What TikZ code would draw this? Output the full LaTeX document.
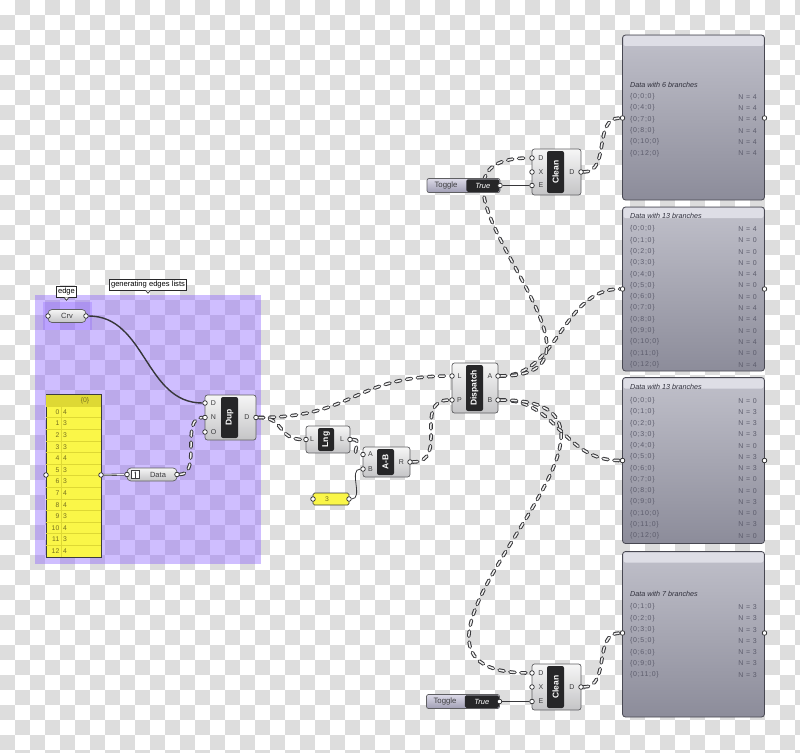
\documentclass[tikz,border=0pt]{standalone}
\usepackage{fontspec}
\setmainfont{Liberation Sans}
\newfontfamily\pnlfont[LetterSpace=10]{Liberation Sans}
\usepackage{xcolor}
\usepackage{tikz}
\usetikzlibrary{positioning, arrows.meta, calc}

\definecolor{chk}{RGB}{221,221,221}
\definecolor{grp}{RGB}{136,92,255}
\definecolor{wiredark}{RGB}{55,55,58}
\definecolor{wirelite}{RGB}{240,240,240}
\definecolor{compedge}{RGB}{95,95,98}
\definecolor{comptop}{RGB}{246,246,246}
\definecolor{compbot}{RGB}{196,196,198}
\definecolor{coreblk}{RGB}{38,38,40}
\definecolor{lbltxt}{RGB}{60,60,62}
\definecolor{knobedge}{RGB}{40,40,42}
\definecolor{pnledge}{RGB}{72,72,82}
\definecolor{pnltop}{RGB}{192,192,202}
\definecolor{pnlbot}{RGB}{140,140,154}
\definecolor{pnlband}{RGB}{222,222,230}
\definecolor{pnltxt}{RGB}{92,92,108}
\definecolor{pnltitle}{RGB}{48,48,60}
\definecolor{ylw}{RGB}{250,246,72}
\definecolor{ylwdark}{RGB}{222,216,52}
\definecolor{ylwtxt}{RGB}{118,112,30}
\definecolor{tgltop}{RGB}{220,218,232}
\definecolor{tglbot}{RGB}{160,158,180}

\pgfdeclarelayer{bg}
\pgfdeclarelayer{wires}
\pgfsetlayers{bg,wires,main}

\tikzset{
  comp/.style={draw=compedge, line width=0.7pt, rounded corners=2.5pt, top color=comptop, bottom color=compbot, inner sep=0pt},
  core/.style={fill=coreblk, rounded corners=2pt, rotate=90, text=white, inner sep=0pt, font=\fontsize{8.5}{9}\selectfont\bfseries},
  lbl/.style={text=lbltxt, inner sep=0pt, font=\fontsize{7}{8}\selectfont},
  param/.style={comp, rounded corners=4pt},
  knob/.style={circle, draw=knobedge, fill=white, line width=0.7pt, inner sep=0pt, minimum size=4.6pt},
  tree/.style={draw=wiredark, line width=3.6pt, line cap=round, dash pattern=on 5pt off 6pt,
    postaction={draw=wirelite, line width=1.5pt, line cap=round, dash pattern=on 5pt off 6pt}},
  item/.style={draw=wiredark, line width=1pt},
  list/.style={draw=wiredark, line width=0.6pt, double=wirelite, double distance=0.9pt},
  pnl/.style={draw=pnledge, line width=0.8pt, rounded corners=3pt, top color=pnltop, bottom color=pnlbot, inner sep=0pt, minimum width=142pt},
  ptxt/.style={text=pnltxt, inner sep=0pt, font=\fontsize{7}{8}\pnlfont},
  ptitle/.style={text=pnltitle, inner sep=0pt, anchor=west, font=\fontsize{7.2}{8}\selectfont\itshape},
  ytxt/.style={text=ylwtxt, inner sep=0pt, font=\fontsize{6.8}{7}\selectfont},
  tag/.style={draw=knobedge, fill=white, line width=0.6pt, inner sep=1.5pt, minimum height=11pt, font=\fontsize{7.6}{8}\selectfont},
  tgl/.style={draw=compedge, line width=0.7pt, rounded corners=2pt, top color=tgltop, bottom color=tglbot, inner sep=0pt},
  tglval/.style={fill=coreblk, rounded corners=1.5pt, text=white, inner sep=0pt, font=\fontsize{7.5}{8}\selectfont\itshape}
}

\begin{document}
\begin{tikzpicture}[x=1pt, y=-1pt]
    \useasboundingbox (0,0) rectangle (800,752);

    \begin{pgfonlayer}{bg}
    \foreach \i in {0,...,53}{
      \foreach \j in {0,...,50}{
        \pgfmathtruncatemacro\odd{mod(\i+\j,2)}
        \ifnum\odd=1 \fill[chk] (15*\i,15*\j) rectangle ++(15,15); \fi
      }
    }
    \fill[grp, fill opacity=0.4] (35,294.5) rectangle (261,564);
    \fill[grp, fill opacity=0.28] (43,302) rectangle (92,330);
    \end{pgfonlayer}

    \node[tag] (tagedge) at (66.5,291.5) {edge};
    \fill[white, draw=knobedge, line width=0.6pt] ($(tagedge.south)+(-2.5,0)$) -- ($(tagedge.south)+(0,3)$) -- ($(tagedge.south)+(2.5,0)$);
    \node[tag] (taggrp) at (148,284.5) {generating edges lists};
    \fill[white, draw=knobedge, line width=0.6pt] ($(taggrp.south)+(-2.5,0)$) -- ($(taggrp.south)+(0,3)$) -- ($(taggrp.south)+(2.5,0)$);

    \node[param, minimum width=38pt, minimum height=13pt] (crv) at (67,316) {};
    \node[lbl, font=\fontsize{7.5}{8}\selectfont] at (67,316) {Crv};
    \node[knob] (crvin) at (48,316) {};
    \node[knob] (crvout) at (86,316) {};

    \draw[draw=lbltxt, line width=0.7pt, fill=ylw] (46,394.5) rectangle (101,557.5);
    \fill[ylwdark] (46.4,394.9) rectangle (100.6,406);
    \node[ytxt] at (85,400.5) {\{0\}};
    \draw[ylwdark, line width=0.5pt] (61,406) -- (61,557);
    \foreach \v [count=\i from 0] in {4,3,3,3,4,3,3,4,4,3,4,3,4} {
      \draw[ylwdark, line width=0.4pt] (46.4,406+11.6*\i) -- (100.6,406+11.6*\i);
      \node[ytxt, anchor=east] at (59.5,412+11.6*\i) {\i};
      \node[ytxt, anchor=west] at (63,412+11.6*\i) {\v};
    }
    \node[knob] (ylwin) at (46,475) {};
    \node[knob] (ylwout) at (101,475) {};

    \node[param, minimum width=50pt, minimum height=13pt] (data) at (152,474.5) {};
    \draw[lbltxt, line width=0.5pt, fill=white] (131,470.5) rectangle (139.5,478.5);
    \draw[lbltxt, line width=0.6pt, -{Stealth[length=2pt]}] (135.25,477.5) -- (135.25,471.3);
    \node[lbl, font=\fontsize{7.5}{8}\selectfont] at (158,474.5) {Data};
    \node[knob] (datain) at (127,474.5) {};
    \node[knob] (dataout) at (177,474.5) {};

    \node[comp, minimum width=51pt, minimum height=45pt] (dup) at (230.5,417.5) {};
    \node[core, minimum width=41pt, minimum height=17pt] (dupcore) at (229.5,417.5) {Dup};
    \node[lbl] at (213.5,403) {D};
    \node[lbl] at (213.5,417.5) {N};
    \node[lbl] at (213.5,432) {O};
    \node[lbl] at (247,417.5) {D};
    \node[knob] (dupD) at (205,403) {};
    \node[knob] (dupN) at (205,417.5) {};
    \node[knob] (dupO) at (205,432) {};
    \node[knob] (dupout) at (256,417.5) {};

    \node[comp, minimum width=44pt, minimum height=27pt] (lng) at (328,439.5) {};
    \node[core, minimum width=23pt, minimum height=16pt] (lngcore) at (326,439.5) {Lng};
    \node[lbl] at (312,439.5) {L};
    \node[lbl] at (342,439.5) {L};
    \node[knob] (lngin) at (306,439.5) {};
    \node[knob] (lngout) at (350,439.5) {};

    \node[comp, minimum width=47pt, minimum height=30pt] (ab) at (386.5,462) {};
    \node[core, minimum width=26pt, minimum height=17pt] (abcore) at (385.5,462) {A-B};
    \node[lbl] at (370.5,454.5) {A};
    \node[lbl] at (370.5,469) {B};
    \node[lbl] at (401.5,462) {R};
    \node[knob] (abA) at (363,454.5) {};
    \node[knob] (abB) at (363,469) {};
    \node[knob] (abR) at (410,462) {};

    \node[draw=lbltxt, line width=0.7pt, fill=ylw, rounded corners=1.5pt, minimum width=36pt, minimum height=12pt] (three) at (331,499) {};
    \node[ytxt] at (327,499) {3};
    \node[knob] (threein) at (313,499) {};
    \node[knob] (threeout) at (349,499) {};

    \node[comp, minimum width=46pt, minimum height=50pt] (disp) at (475,388) {};
    \node[core, minimum width=46pt, minimum height=17pt] (dispcore) at (474.5,388) {Dispatch};
    \node[lbl] at (459.5,376) {L};
    \node[lbl] at (459.5,400) {P};
    \node[lbl] at (490,376) {A};
    \node[lbl] at (490,400) {B};
    \node[knob] (dL) at (452,376) {};
    \node[knob] (dP) at (452,400) {};
    \node[knob] (dA) at (498,376) {};
    \node[knob] (dB) at (498,400) {};

    \node[comp, minimum width=49pt, minimum height=46pt] (clnA) at (556.5,172) {};
    \node[core, minimum width=42pt, minimum height=17pt] (clnAcore) at (555.5,172) {Clean};
    \node[lbl] at (541,158) {D};
    \node[lbl] at (541,172) {X};
    \node[lbl] at (541,185.5) {E};
    \node[lbl] at (572,172) {D};
    \node[knob] (clnAD) at (532,158) {};
    \node[knob] (clnAX) at (532,172) {};
    \node[knob] (clnAE) at (532,185.5) {};
    \node[knob] (clnAout) at (581,172) {};

    \node[tgl, minimum width=73pt, minimum height=14pt] (tglA) at (463.5,185.5) {};
    \node[tglval, minimum width=33pt, minimum height=12.5pt, anchor=east] (tglAv) at ($(tglA.east)+(-0.8,0)$) {True};
    \node[lbl, font=\fontsize{7.8}{8}\selectfont] at (446,185.5) {Toggle};
    \node[knob] (tglAout) at (500,185.5) {};

    \node[comp, minimum width=49pt, minimum height=46pt] (clnB) at (556.5,687) {};
    \node[core, minimum width=42pt, minimum height=17pt] (clnBcore) at (555.5,687) {Clean};
    \node[lbl] at (541,673) {D};
    \node[lbl] at (541,687) {X};
    \node[lbl] at (541,701.5) {E};
    \node[lbl] at (572,687) {D};
    \node[knob] (clnBD) at (532,673) {};
    \node[knob] (clnBX) at (532,687) {};
    \node[knob] (clnBE) at (532,701.5) {};
    \node[knob] (clnBout) at (581,687) {};

    \node[tgl, minimum width=73pt, minimum height=14pt] (tglB) at (463,701.5) {};
    \node[tglval, minimum width=34pt, minimum height=12.5pt, anchor=east] (tglBv) at ($(tglB.east)+(-0.8,0)$) {True};
    \node[lbl, font=\fontsize{7.8}{8}\selectfont] at (445,701.5) {Toggle};
    \node[knob] (tglBout) at (499.5,701.5) {};

    \node[pnl, minimum height=165pt] (pnlA) at (693.5,117.5) {};
    \fill[pnlband, rounded corners=2pt] (623.5,36) rectangle (763.5,46);
    \node[ptitle] at (630,85) {Data with 6 branches};
    \foreach \p [count=\i from 0] in {0,4,7,8,10,12} {
      \node[ptxt, anchor=west] at (630,96.7+11.3*\i) {\{0;\p;0\}};
      \node[ptxt, anchor=east] at (757,96.7+11.3*\i) {N = 4};
    }
    \node[knob] (pnlAin) at (622.5,118) {};
    \node[knob] (pnlAout) at (764.5,118) {};

    \node[pnl, minimum height=164pt] (pnlB) at (693.5,289) {};
    \fill[pnlband, rounded corners=2pt] (623.5,208) rectangle (763.5,218);
    \node[ptitle] at (630,216) {Data with 13 branches};
    \foreach \n [count=\i from 0] in {4,0,0,0,4,0,0,4,4,0,4,0,4} {
      \node[ptxt, anchor=west] at (630,229+11.3*\i) {\{0;\i;0\}};
      \node[ptxt, anchor=east] at (757,229+11.3*\i) {N = \n};
    }
    \node[knob] (pnlBin) at (622.5,289) {};
    \node[knob] (pnlBout) at (764.5,289) {};

    \node[pnl, minimum height=166pt] (pnlC) at (693.5,460.5) {};
    \fill[pnlband, rounded corners=2pt] (623.5,378.5) rectangle (763.5,388.5);
    \node[ptitle] at (630,387) {Data with 13 branches};
    \foreach \n [count=\i from 0] in {0,3,3,3,0,3,3,0,0,3,0,3,0} {
      \node[ptxt, anchor=west] at (630,400.7+11.25*\i) {\{0;\i;0\}};
      \node[ptxt, anchor=east] at (757,400.7+11.25*\i) {N = \n};
    }
    \node[knob] (pnlCin) at (622.5,460.5) {};
    \node[knob] (pnlCout) at (764.5,460.5) {};

    \node[pnl, minimum height=165.5pt] (pnlD) at (693.5,634.25) {};
    \fill[pnlband, rounded corners=2pt] (623.5,552.5) rectangle (763.5,562.5);
    \node[ptitle] at (630,594) {Data with 7 branches};
    \foreach \p [count=\i from 0] in {1,2,3,5,6,9,11} {
      \node[ptxt, anchor=west] at (630,607+11.3*\i) {\{0;\p;0\}};
      \node[ptxt, anchor=east] at (757,607+11.3*\i) {N = 3};
    }
    \node[knob] (pnlDin) at (622.5,633) {};
    \node[knob] (pnlDout) at (764.5,633) {};

    \begin{pgfonlayer}{wires}
    \draw[item, line width=1.4pt] (crvout) .. controls +(60,0) and +(-60,0) .. (dupD);
    \draw[list] (ylwout) -- (datain);
    \draw[tree] (dataout) .. controls +(25,0) and +(-25,0) .. (dupN);
    \draw[tree] (dupout) .. controls +(100,0) and +(-100,0) .. (dL);
    \draw[tree] (dupout) .. controls +(30,0) and +(-30,0) .. (lngin);
    \draw[tree] (lngout) .. controls +(15,0) and +(-15,0) .. (abA);
    \draw[item, line width=0.8pt] (threeout) .. controls +(15,0) and +(-15,0) .. (abB);
    \draw[tree] (abR) .. controls +(40,0) and +(-40,0) .. (dP);
    \draw[tree] (dA) .. controls +(60,0) and +(-60,0) .. (pnlBin);
    \draw[tree] (dB) .. controls +(60,0) and +(-60,0) .. (pnlCin);
    \draw[tree] (dA) .. controls +(150,0) and +(-150,0) .. (clnAD);
    \draw[tree] (dB) .. controls +(200,0) and +(-200,0) .. (clnBD);
    \draw[item] (tglAout) -- (clnAE);
    \draw[item] (tglBout) -- (clnBE);
    \draw[tree] (clnAout) .. controls +(30,0) and +(-30,0) .. (pnlAin);
    \draw[tree] (clnBout) .. controls +(30,0) and +(-30,0) .. (pnlDin);
    \end{pgfonlayer}
\end{tikzpicture}
\end{document}
